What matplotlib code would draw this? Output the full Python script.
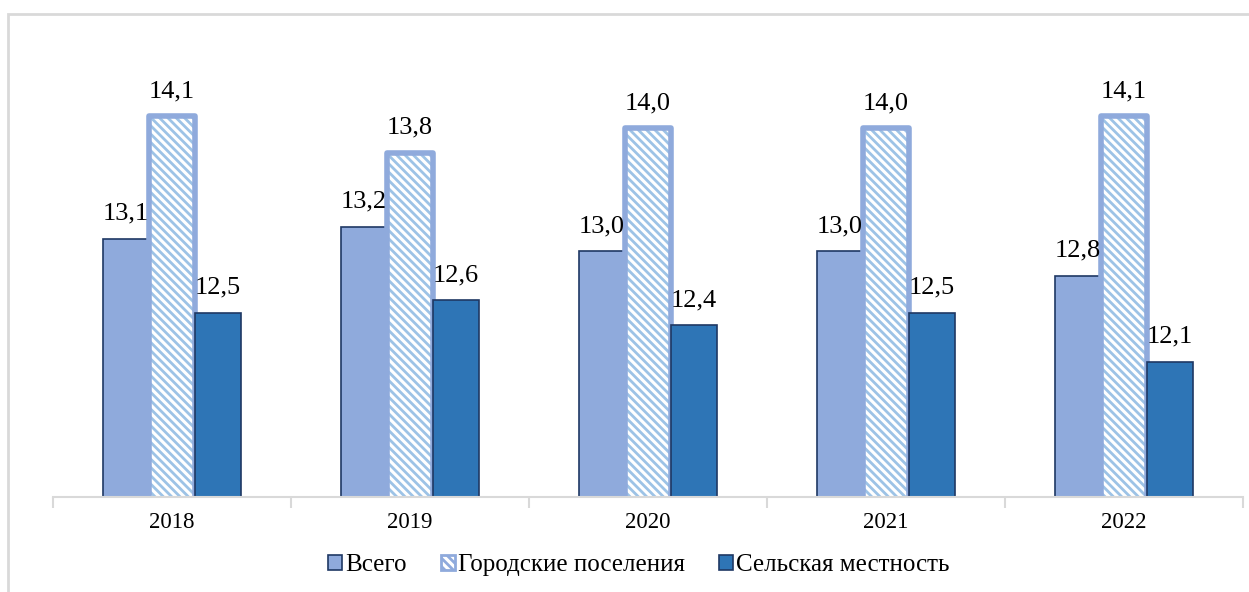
import matplotlib
matplotlib.use('Agg')
import matplotlib.pyplot as plt
import matplotlib.patches as mpatches
import numpy as np

# данные
years = ['2018', '2019', '2020', '2021', '2022']
vsego = [13.1, 13.2, 13.0, 13.0, 12.8]
gorod = [14.1, 13.8, 14.0, 14.0, 14.1]
selo = [12.5, 12.6, 12.4, 12.5, 12.1]
series_names = ['Всего', 'Городские поселения', 'Сельская местность']

C_VSEGO = '#8FAADC'
C_GOROD_EDGE = '#8FAADC'
C_GOROD_HATCH = '#9DC3E6'
C_SELO = '#2E75B6'
C_DARK = '#1F3864'

plt.rcParams['font.family'] = ['Liberation Serif', 'DejaVu Serif']
plt.rcParams['hatch.linewidth'] = 2.0

fig = plt.figure(figsize=(12.49, 5.92), dpi=100)
W, H = 1249, 592
ax = fig.add_axes([53 / W, 95 / H, 1190 / W, 450 / H])

# рамка области диаграммы (видны только верх и лево)
fig.add_artist(mpatches.Rectangle((8 / W, -0.2), 1.5, 0.2 + (H - 14) / H,
                                  transform=fig.transFigure, fill=False,
                                  edgecolor='#D9D9D9', linewidth=2))

x = np.arange(len(years))
w = 0.193

ax.bar(x - w, vsego, w, color=C_VSEGO, edgecolor=C_DARK, linewidth=1.2)
# городские: штриховка + толстая рамка
ax.bar(x, gorod, w, color='white', edgecolor=C_GOROD_HATCH, hatch='\\\\\\\\', linewidth=0)
ax.bar(x, gorod, w, fill=False, edgecolor=C_GOROD_EDGE, linewidth=4, joinstyle='round')
ax.bar(x + w, selo, w, color=C_SELO, edgecolor=C_DARK, linewidth=1.2)

for xs, vals in [(x - w, vsego), (x, gorod), (x + w, selo)]:
    for xi, v in zip(xs, vals):
        ax.annotate(f'{v:.1f}'.replace('.', ','), (xi, v), xytext=(0, 10),
                    textcoords='offset points', ha='center', va='bottom', fontsize=19)

ax.set_ylim(11, 14.66)
ax.set_xlim(-0.5, len(years) - 0.5)
ax.set_yticks([])
for s in ['top', 'right', 'left']:
    ax.spines[s].set_visible(False)
ax.spines['bottom'].set_color('#D9D9D9')
ax.spines['bottom'].set_linewidth(1.5)

ax.set_xticks(x)
ax.set_xticklabels(years, fontsize=16.5)
ax.tick_params(axis='x', which='major', length=0, pad=11)
ax.set_xticks(np.arange(-0.5, len(years)), minor=True)
ax.tick_params(axis='x', which='minor', length=8, color='#D9D9D9', width=1.5)

h1 = mpatches.Patch(facecolor=C_VSEGO, edgecolor=C_DARK, linewidth=1.2)
h2 = mpatches.Patch(facecolor='white', edgecolor=C_GOROD_EDGE, hatch='\\\\\\\\', linewidth=2)
h3 = mpatches.Patch(facecolor=C_SELO, edgecolor=C_DARK, linewidth=1.2)
fig.legend([h1, h2, h3], series_names, loc='center', bbox_to_anchor=(639 / W, 1 - 565 / H),
           ncol=3, frameon=False, handlelength=0.55, handleheight=0.55,
           handletextpad=0.15, columnspacing=1.35,
           prop={'family': ['Liberation Serif', 'DejaVu Serif'], 'size': 18})

fig.savefig('out.png', dpi=100)
